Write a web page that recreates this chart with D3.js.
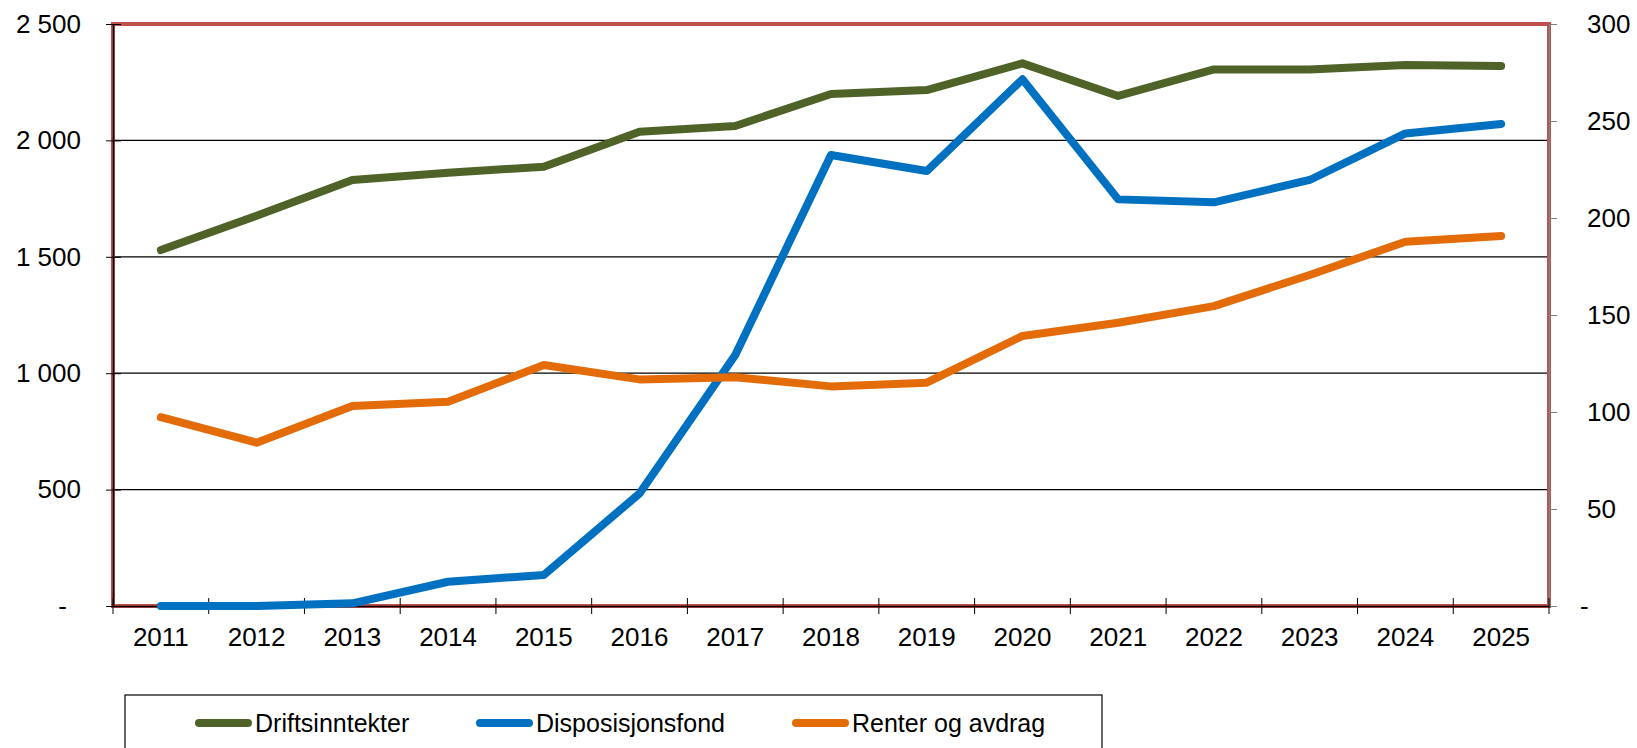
<!DOCTYPE html>
<html>
<head>
<meta charset="utf-8">
<script src="https://cdn.jsdelivr.net/npm/d3@7"></script>
<style>
    body { margin: 0; background: #fff; }
    text { font-family: "Liberation Sans", Arial, sans-serif; fill: #000; }
</style>
</head>
<body>
<svg id="chart" width="1637" height="748"></svg>
<script>
//data
const years = ["2011", "2012", "2013", "2014", "2015", "2016", "2017", "2018", "2019", "2020", "2021", "2022", "2023", "2024", "2025"];
const driftsinntekter = [1529, 1676, 1830, 1861, 1887, 2037, 2062, 2199, 2216, 2331, 2191, 2305, 2305, 2324, 2320];
const disposisjonsfond = [0, 0, 1.4, 12.5, 16, 58, 129.4, 232.5, 224.2, 271.5, 209.6, 208.1, 219.6, 243.6, 248.5];
const renterOgAvdrag = [97.3, 84.2, 103.1, 105.3, 124.2, 116.8, 117.9, 113.2, 115.1, 139.2, 146, 154.6, 170.6, 187.8, 190.7];
const seriesNames = ["Driftsinntekter", "Disposisjonsfond", "Renter og avdrag"];
const leftTicks = [0, 500, 1000, 1500, 2000, 2500];
const rightTicks = [0, 50, 100, 150, 200, 250, 300];

const svg = d3.select("#chart");
const plot = {left: 113, right: 1549, top: 24, bottom: 606};
const fontSize = 26;

const x = d3.scaleBand().domain(years).range([plot.left, plot.right]);
const yLeft = d3.scaleLinear().domain([0, 2500]).range([plot.bottom, plot.top]);
const yRight = d3.scaleLinear().domain([0, 300]).range([plot.bottom, plot.top]);

const locale = d3.formatLocale({decimal: ",", thousands: "\u00a0", grouping: [3], currency: ["", ""]});
const fmt = function (d) {
    return d === 0 ? "-" : locale.format(",")(d);
};

const series = [
    {name: seriesNames[0], values: driftsinntekter, scale: yLeft, color: "#4F6228"},
    {name: seriesNames[1], values: disposisjonsfond, scale: yRight, color: "#0070C0"},
    {name: seriesNames[2], values: renterOgAvdrag, scale: yRight, color: "#E36C09"}
];

//gridlines
svg.append("g")
    .selectAll("line")
    .data(leftTicks.filter(d => d > 0 && d < 2500))
    .join("line")
    .attr("x1", plot.left)
    .attr("x2", plot.right)
    .attr("y1", d => yLeft(d))
    .attr("y2", d => yLeft(d))
    .attr("stroke", "#000")
    .attr("stroke-width", 1.2);

//plot area border
svg.append("rect")
    .attr("x", plot.left)
    .attr("y", plot.top)
    .attr("width", plot.right - plot.left)
    .attr("height", plot.bottom - plot.top)
    .attr("fill", "none")
    .attr("stroke", "#C0504D")
    .attr("stroke-width", 4);

//left axis
const axisL = svg.append("g")
    .attr("transform", `translate(${plot.left},0)`)
    .call(d3.axisLeft(yLeft).tickValues(leftTicks).tickFormat(fmt).tickSizeInner(7).tickSizeOuter(0));
axisL.select(".domain").attr("stroke", "#000").attr("stroke-width", 1.5);
axisL.selectAll(".tick line").attr("x1", 8).attr("stroke", "#000");
axisL.selectAll(".tick text")
    .attr("font-size", fontSize)
    .attr("font-family", "Liberation Sans, Arial, sans-serif")
    .attr("x", d => d === 0 ? -46 : -32);

//right axis
const axisR = svg.append("g")
    .attr("transform", `translate(${plot.right},0)`)
    .call(d3.axisRight(yRight).tickValues(rightTicks).tickFormat(fmt).tickSizeInner(8).tickSizeOuter(0));
axisR.select(".domain").attr("stroke", "#808080").attr("stroke-width", 1.5);
axisR.selectAll(".tick line").attr("stroke", "#808080");
axisR.selectAll(".tick text")
    .attr("font-size", fontSize)
    .attr("font-family", "Liberation Sans, Arial, sans-serif")
    .attr("x", d => d === 0 ? 31 : 38);

//bottom axis
const axisB = svg.append("g")
    .attr("transform", `translate(0,${plot.bottom})`)
    .call(d3.axisBottom(x).tickSize(0).tickPadding(22));
axisB.select(".domain").attr("stroke", "#000").attr("stroke-width", 1.5);
axisB.selectAll(".tick text")
    .attr("font-size", fontSize)
    .attr("font-family", "Liberation Sans, Arial, sans-serif");

const edges = years.map(d => x(d)).concat([plot.right]);
axisB.append("g")
    .selectAll("line")
    .data(edges)
    .join("line")
    .attr("x1", d => d)
    .attr("x2", d => d)
    .attr("y1", -8)
    .attr("y2", 8)
    .attr("stroke", "#000");

//lines
const cx = d => x(d) + x.bandwidth() / 2;
series.forEach(function (s) {
    const line = d3.line()
        .x((d, i) => cx(years[i]))
        .y(d => s.scale(d));
    svg.append("path")
        .datum(s.values)
        .attr("d", line)
        .attr("fill", "none")
        .attr("stroke", s.color)
        .attr("stroke-width", 8)
        .attr("stroke-linecap", "round")
        .attr("stroke-linejoin", "round");
});

//legend
const legend = svg.append("g").attr("class", "legend");
legend.append("rect")
    .attr("x", 125)
    .attr("y", 695)
    .attr("width", 977)
    .attr("height", 70)
    .attr("fill", "#fff")
    .attr("stroke", "#000")
    .attr("stroke-width", 1.2);

const legendX = [195, 476, 792];
const item = legend.selectAll("g.item")
    .data(series)
    .join("g")
    .attr("class", "item")
    .attr("transform", (d, i) => `translate(${legendX[i]},723)`);

item.append("line")
    .attr("x1", 4)
    .attr("x2", 53)
    .attr("stroke", d => d.color)
    .attr("stroke-width", 8)
    .attr("stroke-linecap", "round");

item.append("text")
    .text(d => d.name)
    .attr("x", 60)
    .attr("y", 9)
    .attr("font-size", 25);
</script>
</body>
</html>
